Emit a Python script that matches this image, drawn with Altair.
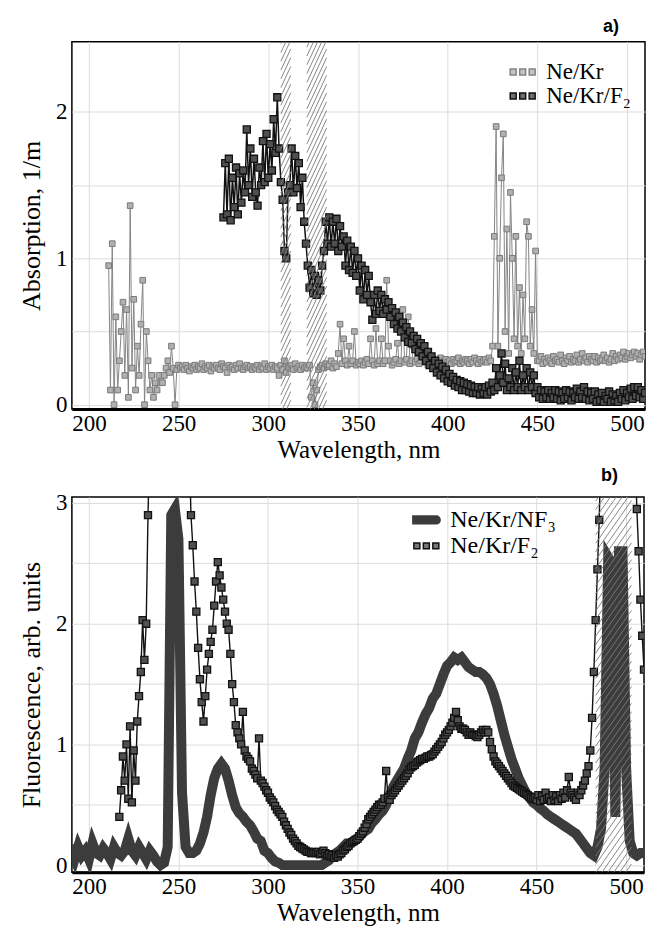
import numpy as np
import pandas as pd
import altair as alt

SERIF = "Liberation Serif, Times New Roman, serif"
SANS = "Liberation Sans, Arial, sans-serif"

# ---------------- data: panel a (absorption) ----------------
A_NAMES = ["Ne/Kr", "Ne/Kr/F\u2082"]
A_KR_START, A_KR_STEP = 211, 1
a_kr = [
    0.95, 0.10, 1.10, 0.00, 0.60, 0.10, 0.30, 0.50, 0.70, 0.20,
    0.65, 0.05, 1.36, 0.25, 0.72, 0.10, 0.40, 0.20, 0.55, 0.85,
    0.00, 0.50, 0.30, 0.10, 0.20, 0.05, 0.15, 0.10, 0.20, 0.15,
    0.15, 0.20, 0.25, 0.30, 0.22, 0.40, 0.25, 0.00, 0.24, 0.27,
    0.25, 0.26, 0.24, 0.27, 0.25, 0.23, 0.26, 0.25, 0.27, 0.24,
    0.26, 0.25, 0.28, 0.24, 0.26, 0.25, 0.27, 0.23, 0.26, 0.25,
    0.27, 0.25, 0.24, 0.28, 0.26, 0.25, 0.22, 0.27, 0.25, 0.26,
    0.24, 0.27, 0.25, 0.28, 0.25, 0.24, 0.26, 0.27, 0.25, 0.26,
    0.24, 0.26, 0.25, 0.27, 0.24, 0.26, 0.25, 0.28, 0.24, 0.26,
    0.25, 0.27, 0.24, 0.26, 0.25, 0.20, 0.27, 0.24, 0.30, 0.22,
    0.26, 0.25, 0.27, 0.24, 0.28, 0.25, 0.26, 0.24, 0.27, 0.25,
    0.26, 0.25, 0.27, 0.05, 0.15, 0.00, 0.10, 0.24, 0.26, 0.27,
    0.25, 0.28, 0.26, 0.27, 0.30, 0.25, 0.28, 0.26, 0.35, 0.55,
    0.28, 0.45, 0.30, 0.27, 0.40, 0.28, 0.30, 0.50, 0.27, 0.29,
    0.28, 0.30, 0.27, 0.29, 0.31, 0.28, 0.45, 0.30, 0.27, 0.52,
    0.28, 0.30, 0.45, 0.28, 0.30, 0.85, 0.40, 0.30, 0.27, 0.29,
    0.31, 0.42, 0.28, 0.30, 0.65, 0.29, 0.31, 0.60, 0.28, 0.30,
    0.40, 0.29, 0.31, 0.28, 0.30, 0.35, 0.29, 0.31, 0.27, 0.30,
    0.29, 0.31, 0.28, 0.30, 0.29, 0.32, 0.28, 0.30, 0.31, 0.29,
    0.30, 0.28, 0.31, 0.29, 0.30, 0.32, 0.28, 0.30, 0.29, 0.31,
    0.30, 0.28, 0.31, 0.29, 0.32, 0.30, 0.28, 0.31, 0.29, 0.30,
    0.31, 0.29, 0.32, 0.30, 0.40, 1.15, 1.90, 0.40, 1.00, 1.55,
    1.85, 0.50, 1.20, 0.35, 1.45, 1.00, 0.45, 1.15, 0.40, 0.80,
    0.35, 0.75, 0.45, 1.25, 1.15, 0.40, 0.65, 0.35, 1.05, 0.30,
    0.30, 0.33, 0.28, 0.31, 0.29, 0.32, 0.30, 0.28, 0.33, 0.30,
    0.31, 0.29, 0.34, 0.30, 0.28, 0.32, 0.30, 0.33, 0.29, 0.31,
    0.30, 0.34, 0.29, 0.31, 0.35, 0.30, 0.32, 0.29, 0.33, 0.31,
    0.30, 0.33, 0.29, 0.32, 0.30, 0.31, 0.34, 0.30, 0.32, 0.29,
    0.31, 0.35, 0.30, 0.33, 0.31, 0.34, 0.32, 0.36, 0.31, 0.33,
    0.35, 0.32, 0.34, 0.36, 0.33, 0.35, 0.31, 0.34, 0.36, 0.33,
]
A_F2_START, A_F2_STEP = 275, 1
a_f2 = [
    1.28, 1.65, 1.30, 1.68, 1.26, 1.55, 1.35, 1.62, 1.30, 1.58,
    1.38, 1.60, 1.45, 1.88, 1.50, 1.75, 1.42, 1.68, 1.45, 1.36,
    1.62, 1.50, 1.80, 1.52, 1.85, 1.55, 1.78, 1.60, 1.95, 1.72,
    2.10, 1.75, 1.52, 1.40, 1.05, 1.00, 1.45, 1.50, 1.75, 1.45,
    1.70, 1.48, 1.65, 1.35, 1.55, 1.25, 1.10, 0.95, 0.80, 0.92,
    0.76, 0.88, 0.75, 0.85, 0.78, 0.95, 1.05, 1.25, 1.10, 1.28,
    1.08, 1.25, 1.10, 1.27, 1.05, 1.22, 1.08, 1.15, 0.95, 1.12,
    0.92, 1.08, 0.90, 1.05, 0.88, 1.00, 0.78, 0.95, 0.72, 0.92,
    0.75, 0.88, 0.70, 0.58, 0.75, 0.62, 0.78, 0.64, 0.75, 0.62,
    0.72, 0.65, 0.70, 0.60, 0.66, 0.55, 0.63, 0.52, 0.60, 0.50,
    0.56, 0.46, 0.53, 0.43, 0.50, 0.42, 0.47, 0.38, 0.45, 0.36,
    0.42, 0.33, 0.40, 0.30, 0.36, 0.27, 0.33, 0.25, 0.30, 0.22,
    0.28, 0.20, 0.26, 0.18, 0.24, 0.16, 0.21, 0.15, 0.19, 0.13,
    0.17, 0.12, 0.16, 0.10, 0.15, 0.10, 0.14, 0.09, 0.13, 0.08,
    0.12, 0.08, 0.12, 0.07, 0.11, 0.08, 0.12, 0.07, 0.13, 0.09,
    0.15, 0.10, 0.25, 0.12, 0.20, 0.35, 0.15, 0.28, 0.10, 0.18,
    0.12, 0.25, 0.10, 0.22, 0.12, 0.30, 0.10, 0.20, 0.12, 0.25,
    0.10, 0.22, 0.12, 0.20, 0.08, 0.12, 0.05, 0.10, 0.04, 0.09,
    0.05, 0.10, 0.04, 0.08, 0.05, 0.10, 0.04, 0.09, 0.03, 0.08,
    0.04, 0.10, 0.05, 0.09, 0.03, 0.08, 0.05, 0.11, 0.04, 0.09,
    0.05, 0.12, 0.04, 0.09, 0.03, 0.08, 0.04, 0.09, 0.02, 0.07,
    0.03, 0.08, 0.02, 0.06, 0.04, 0.09, 0.02, 0.07, 0.03, 0.06,
    0.02, 0.08, 0.04, 0.10, 0.03, 0.08, 0.05, 0.11, 0.04, 0.12,
    0.06, 0.12, 0.05, 0.10, 0.04, 0.08,
]
A_BANDS = [(307.0, 312.5), (321.5, 332.5)]

# ---------------- data: panel b (fluorescence) ----------------
B_NAMES = ["Ne/Kr/NF\u2083", "Ne/Kr/F\u2082"]
B_NF3_START, B_NF3_STEP = 190, 2
b_nf3 = [
    0.12, 0.05, 0.15, 0.08, 0.12, 0.05, 0.18, 0.10, 0.08, 0.14,
    0.10, 0.05, 0.15, 0.10, 0.08, 0.12, 0.22, 0.12, 0.08, 0.15,
    0.10, 0.05, 0.12, 0.08, 0.03, 0.00, 0.02, 0.15, 2.90, 2.95,
    2.70, 0.60, 0.15, 0.10, 0.10, 0.12, 0.18, 0.27, 0.40, 0.58,
    0.72, 0.80, 0.84, 0.80, 0.70, 0.58, 0.48, 0.43, 0.40, 0.36,
    0.33, 0.28, 0.22, 0.20, 0.12, 0.10, 0.06, 0.03, 0.02, 0.00,
    0.00, 0.00, 0.00, 0.00, 0.00, 0.00, 0.00, 0.00, 0.00, 0.00,
    0.00, 0.02, 0.04, 0.08, 0.10, 0.12, 0.15, 0.18, 0.18, 0.20,
    0.22, 0.25, 0.28, 0.30, 0.35, 0.38, 0.42, 0.45, 0.50, 0.58,
    0.65, 0.70, 0.75, 0.80, 0.88, 0.95, 1.05, 1.10, 1.18, 1.25,
    1.30, 1.38, 1.42, 1.50, 1.58, 1.65, 1.68, 1.72, 1.70, 1.72,
    1.68, 1.64, 1.62, 1.60, 1.60, 1.58, 1.55, 1.50, 1.42, 1.32,
    1.20, 1.08, 0.98, 0.88, 0.80, 0.72, 0.66, 0.60, 0.56, 0.52,
    0.50, 0.47, 0.45, 0.42, 0.40, 0.38, 0.36, 0.34, 0.32, 0.30,
    0.28, 0.26, 0.22, 0.18, 0.14, 0.10, 0.08, 0.15, 0.30, 0.80,
    2.55, 2.50, 0.40, 2.60, 2.60, 0.80, 0.20, 0.10, 0.08, 0.10,
    0.10,
]
B_F2_START, B_F2_STEP = 217, 1
b_f2 = [
    0.40, 0.62, 0.90, 0.70, 1.00, 0.55, 1.15, 0.52, 0.95, 0.70,
    1.19, 1.40, 1.60, 2.03, 1.70, 2.00, 2.90, 3.50, 3.50, 3.50,
    3.50, 3.50, 3.50, 3.50, 3.50, 3.50, 3.50, 3.50, 3.50, 3.50,
    3.50, 3.50, 3.50, 3.50, 3.50, 3.50, 3.50, 3.50, 3.50, 3.50,
    2.90, 2.65, 2.35, 2.10, 1.80, 1.54, 1.35, 1.19, 1.40, 1.62,
    1.75, 1.85, 1.95, 2.15, 2.35, 2.51, 2.40, 2.30, 2.20, 2.10,
    2.00, 1.95, 1.75, 1.50, 1.35, 1.16, 1.10, 1.05, 1.00, 1.27,
    0.95, 0.90, 0.88, 0.86, 0.80, 0.78, 0.75, 0.72, 1.05, 0.70,
    0.68, 0.65, 0.62, 0.60, 0.56, 0.54, 0.52, 0.49, 0.46, 0.44,
    0.42, 0.40, 0.36, 0.33, 0.30, 0.27, 0.25, 0.22, 0.20, 0.18,
    0.16, 0.15, 0.14, 0.13, 0.12, 0.11, 0.11, 0.10, 0.10, 0.11,
    0.10, 0.11, 0.09, 0.10, 0.12, 0.10, 0.08, 0.09, 0.07, 0.08,
    0.06, 0.08, 0.07, 0.09, 0.10, 0.12, 0.13, 0.15, 0.16, 0.18,
    0.19, 0.20, 0.21, 0.22, 0.24, 0.26, 0.28, 0.31, 0.34, 0.38,
    0.40, 0.42, 0.44, 0.46, 0.48, 0.50, 0.50, 0.52, 0.55, 0.78,
    0.56, 0.54, 0.58, 0.60, 0.62, 0.64, 0.66, 0.68, 0.70, 0.72,
    0.74, 0.76, 0.79, 0.81, 0.82, 0.83, 0.85, 0.86, 0.87, 0.88,
    0.88, 0.89, 0.90, 0.90, 0.91, 0.92, 0.94, 0.96, 0.98, 1.00,
    1.02, 1.05, 1.08, 1.10, 1.12, 1.15, 1.18, 1.22, 1.27, 1.20,
    1.15, 1.13, 1.13, 1.12, 1.10, 1.08, 1.10, 1.08, 1.08, 1.07,
    1.06, 1.08, 1.10, 1.12, 1.10, 1.12, 1.10, 1.02, 0.96, 0.90,
    0.86, 0.84, 0.82, 0.80, 0.78, 0.76, 0.74, 0.72, 0.70, 0.68,
    0.66, 0.65, 0.64, 0.63, 0.62, 0.61, 0.60, 0.59, 0.58, 0.57,
    0.56, 0.55, 0.56, 0.54, 0.58, 0.53, 0.57, 0.54, 0.60, 0.55,
    0.56, 0.53, 0.58, 0.54, 0.57, 0.53, 0.58, 0.55, 0.60, 0.56,
    0.62, 0.73, 0.60, 0.58, 0.56, 0.54, 0.60, 0.58, 0.62, 0.66,
    0.70, 0.76, 0.82, 0.95, 1.22, 1.60, 2.03, 2.45, 2.86, 3.50,
    3.50, 3.50, 3.50, 3.50, 3.50, 3.50, 3.50, 3.50, 3.50, 3.50,
    3.50, 3.50, 3.50, 3.50, 3.50, 3.50, 3.50, 3.50, 3.50, 2.95,
    2.60, 2.20, 1.90, 1.62,
]
B_BANDS = [(483.0, 503.0)]

X_TICKS = [200, 250, 300, 350, 400, 450, 500]
YA_TICKS = [0, 0.5, 1, 1.5, 2]
YB_TICKS = [0, 0.5, 1, 1.5, 2, 2.5, 3]


def series_df(start, step, vals, name):
    return pd.DataFrame({"wl": start + step * np.arange(len(vals)), "val": vals, "series": name})


def hatch_df(bands, ymin, ymax, rise_per_nm, spacing):
    rows = []
    for x0, x1 in bands:
        rise = (x1 - x0) * rise_per_nm
        for y in np.arange(ymin - rise, ymax + spacing, spacing):
            rows.append({"hx": x0, "hx2": x1, "hy": y, "hy2": y + rise})
    return pd.DataFrame(rows)


SQ3 = "M-1.25,-0.3H-0.65V0.3H-1.25Z M-0.3,-0.3H0.3V0.3H-0.3Z M0.65,-0.3H1.25V0.3H0.65Z"
BAR = "M-1.35,-0.38H1.0A0.38,0.38 0 0 1 1.0,0.38H-1.35Z"

x_scale = alt.Scale(domain=[190.5, 510], nice=False, zero=False)
x_axis = alt.Axis(values=X_TICKS, title="Wavelength, nm", labelFont=SERIF, labelFontSize=23,
                  labelColor="black", titleFont=SERIF, titleFontSize=25, titleFontWeight="normal",
                  titleColor="black", ticks=False, domainColor="black", domainWidth=3,
                  gridColor="#dcdcdc", gridWidth=1, labelPadding=3, titlePadding=2,
                  labelFlush=False)


def y_axis(title, ticks):
    return alt.Axis(values=ticks, title=title, labelExpr="datum.value % 1 == 0 ? '' + datum.value : ''",
                    labelFont=SERIF, labelFontSize=23, labelColor="black", titleFont=SERIF,
                    titleFontSize=26, titleFontWeight="normal", titleColor="black", ticks=False,
                    domain=False, gridColor="#dcdcdc", gridWidth=1, labelPadding=5, titlePadding=11)


def panel(dfs, names, colors, line_styles, point_styles, legend, y_scale, y_ax, hatch, title):
    X = alt.X("wl:Q", scale=x_scale, axis=x_axis)
    Y = alt.Y("val:Q", scale=y_scale, axis=y_ax)
    col = alt.Color("series:N", scale=alt.Scale(domain=names, range=colors), legend=legend)
    layers = []
    for df, ls, ps in zip(dfs, line_styles, point_styles):
        layers.append(alt.Chart(df).mark_line(clip=True, **ls).encode(x=X, y=Y, color=col))
        if ps is not None:
            layers.append(alt.Chart(df).mark_point(clip=True, shape="square", filled=True, opacity=1, **ps)
                          .encode(x=X, y=Y))
    layers.append(
        alt.Chart(hatch).mark_rule(clip=True, color="#7a7a7a", strokeWidth=0.9).encode(
            x=alt.X("hx:Q", scale=x_scale, axis=x_axis), x2="hx2:Q",
            y=alt.Y("hy:Q", scale=y_scale, axis=y_ax), y2="hy2:Q")
    )
    return alt.layer(*layers).properties(title=title)


# ---- panel a ----
dfa = [series_df(A_KR_START, A_KR_STEP, a_kr, A_NAMES[0]),
       series_df(A_F2_START, A_F2_STEP, a_f2, A_NAMES[1])]
legA = alt.Legend(title=None, orient="none", legendX=440, legendY=19, padding=0,
                  symbolType=SQ3, symbolSize=400, symbolStrokeWidth=1.5,
                  symbolFillColor={"expr": "datum.index == 0 ? '#c4c4c4' : '#6e6e6e'"},
                  symbolOpacity=1,
                  labelFont=SERIF, labelFontSize=23, labelColor="black", labelOffset=12, rowPadding=-6)
ya_scale = alt.Scale(domain=[-0.03, 2.48], nice=False, zero=False)
panel_a = panel(
    dfa, A_NAMES, ["#858585", "#111111"],
    [dict(strokeWidth=1), dict(strokeWidth=1.5)],
    [dict(size=32, fill="#b0b0b0", stroke="#7a7a7a", strokeWidth=1),
     dict(size=50, fill="#505050", stroke="#111111", strokeWidth=1.3)],
    legA, ya_scale, y_axis("Absorption, 1/m", YA_TICKS),
    hatch_df(A_BANDS, -0.03, 2.48, 0.0262, 0.06),
    alt.TitleParams("a)", anchor="end", font=SANS, fontSize=18, fontWeight="bold",
                    color="black", offset=6, dx=-26),
).properties(width=574, height=368)

# ---- panel b ----
dfb = [series_df(B_NF3_START, B_NF3_STEP, b_nf3, B_NAMES[0]),
       series_df(B_F2_START, B_F2_STEP, b_f2, B_NAMES[1])]
legB = alt.Legend(title=None, orient="none", legendX=343, legendY=11, padding=0,
                  symbolType={"expr": "datum.index == 0 ? '" + BAR + "' : '" + SQ3 + "'"},
                  symbolSize=400, symbolStrokeWidth=1.5,
                  symbolFillColor={"expr": "datum.index == 0 ? '#3c3c3c' : '#777777'"},
                  symbolOpacity=1,
                  labelFont=SERIF, labelFontSize=24, labelColor="black", labelOffset=12, rowPadding=2)
yb_scale = alt.Scale(domain=[-0.06, 3.05], nice=False, zero=False)
panel_b = panel(
    dfb, B_NAMES, ["#3c3c3c", "#111111"],
    [dict(strokeWidth=10, strokeJoin="miter", strokeCap="square"), dict(strokeWidth=1.4)],
    [None,
     dict(size=50, fill="#505050", stroke="#111111", strokeWidth=1.3)],
    legB, yb_scale, y_axis("Fluorescence, arb. units", YB_TICKS),
    hatch_df(B_BANDS, -0.06, 3.05, 0.0212, 0.07),
    alt.TitleParams("b)", anchor="end", font=SANS, fontSize=18, fontWeight="bold",
                    color="black", offset=7, dx=-26),
).properties(width=573, height=376)

chart = (
    alt.vconcat(panel_a, panel_b, spacing=3)
    .resolve_scale(x="independent", y="independent", color="independent")
    .resolve_legend(color="independent")
    .properties(padding={"left": 17, "top": 16, "right": 2, "bottom": 2}, background="white")
    .configure_view(stroke="black", strokeWidth=1.5)
)

chart.save("out.html", embed_options={"renderer": "svg", "actions": False})
